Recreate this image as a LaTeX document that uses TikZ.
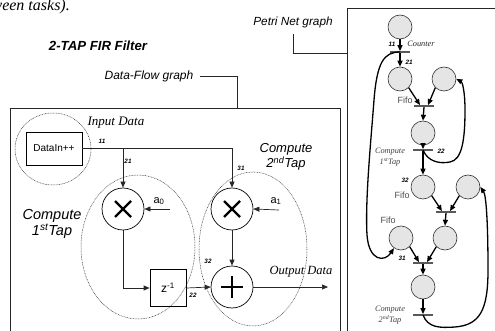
\documentclass[tikz,border=0pt]{standalone}
\usepackage{fontspec}
\setmainfont{Liberation Sans}
\newfontfamily\tnr{Liberation Serif}
\usetikzlibrary{arrows.meta}

\tikzset{
  dfarrow/.style={draw=black!85, line width=0.7pt, -{Triangle[length=6pt,width=5pt]}},
  pnarc/.style={line width=1.3pt, -{Triangle[length=6pt,width=5pt]}},
  place/.style={circle, draw=black!80, fill=black!10, line width=0.6pt, minimum size=24pt, inner sep=0pt},
  trans/.style={rectangle, fill=black!65, minimum width=20pt, minimum height=1.4pt, inner sep=0pt},
  opnode/.style={circle, draw, line width=0.7pt, minimum size=42pt, inner sep=0pt},
  tapzone/.style={draw=black!80, line width=0.5pt, dash pattern=on 0.8pt off 0.8pt},
  num/.style={font=\bfseries\itshape\fontsize{6.3}{7}\selectfont, inner sep=0pt},
  leader/.style={draw=black!85, line width=0.7pt},
  fifolbl/.style={font=\fontsize{9}{10}\selectfont, text=black!70},
}

\begin{document}
\begin{tikzpicture}[x=1pt,y=-1pt]
    \useasboundingbox (0,0) rectangle (495,331);
    % cut-off line of the page above
    \node[anchor=base east, inner sep=0pt, font=\tnr\itshape\fontsize{16}{18}\selectfont] (pagetext) at (70,11) {ween tasks).};
    \node[font=\bfseries\itshape\fontsize{13.2}{15}\selectfont] (title) at (98,46) {2-TAP FIR Filter};

    % frames and their labels
    \draw[black!85, line width=0.8pt] (10,108) rectangle (340,345);
    \draw[black!85, line width=0.8pt] (347,8) rectangle (500,345);
    \node[font=\itshape\fontsize{12}{14}\selectfont] (dflabel) at (149,76) {Data-Flow graph};
    \node[font=\itshape\fontsize{11.8}{14}\selectfont] (pnlabel) at (293,22) {Petri Net graph};
    \coordinate (dfedge) at (237,108);
    \coordinate (pnedge) at (347,53);
    \draw[leader] ([xshift=3pt]dflabel.east) -| (dfedge);
    \draw[leader] ([yshift=-3pt]pnlabel.south) |- (pnedge);

    % Data-Flow graph
    \draw[tapzone] (53,149) ellipse [x radius=38, y radius=36];
    \draw[tapzone] (138,247) ellipse [x radius=57, y radius=72];
    \draw[tapzone] (253,249) ellipse [x radius=54, y radius=77];
    \node[font=\tnr\itshape\fontsize{13}{15}\selectfont] (inlbl) at (116,123) {Input Data};
    \node[font=\itshape\fontsize{14.5}{14}\selectfont, align=center] (tap1lbl) at (52,224) {Compute\\1\textsuperscript{st}Tap};
    \node[font=\itshape\fontsize{13}{13.5}\selectfont, align=center] (tap2lbl) at (286,157) {Compute\\2\textsuperscript{nd}Tap};

    \node[draw, line width=0.7pt, minimum width=56pt, minimum height=33pt, font=\fontsize{10}{12}\selectfont] (din) at (54,148.5) {DataIn++};
    \node[opnode] (mul1) at (123,209) {};
    \node[opnode] (mul2) at (232,209) {};
    \node[opnode] (add) at (232,287) {};
    \node[draw, line width=0.7pt, minimum width=36pt, minimum height=37pt, font=\fontsize{12}{14}\selectfont] (zdel) at (168,288) {z\textsuperscript{-1}};
    \foreach \m in {mul1,mul2} {
        \draw[line width=2.4pt] ([shift={(-8,-8)}]\m.center) -- ([shift={(8,8)}]\m.center);
        \draw[line width=2.4pt] ([shift={(-8,8)}]\m.center) -- ([shift={(8,-8)}]\m.center);
    }
    \draw[line width=2.8pt] ([xshift=-11pt]add.center) -- ([xshift=11pt]add.center);
    \draw[line width=2.8pt] ([yshift=-11pt]add.center) -- ([yshift=11pt]add.center);

    \coordinate (coef0) at (170,209);
    \coordinate (coef1) at (279,210);
    \coordinate (dout) at (328,287);
    \node[font=\fontsize{11}{13}\selectfont] (a0lbl) at (159,201) {a\textsubscript{0}};
    \node[font=\fontsize{11}{13}\selectfont] (a1lbl) at (276,201) {a\textsubscript{1}};
    \node[font=\tnr\itshape\fontsize{12.5}{14}\selectfont] (outlbl) at (301,272) {Output Data};

    \draw[dfarrow] (din.east) -| (mul2.north);
    \draw[dfarrow] (din.east -| mul1.north) -- (mul1.north);
    \draw[dfarrow] (coef0) -- (mul1.east);
    \draw[dfarrow] (coef1) -- (mul2.east);
    \draw[dfarrow] (mul1.south) |- (zdel.west);
    \draw[dfarrow] (zdel.east) -- (add.west);
    \draw[dfarrow] (mul2.south) -- (add.north);
    \draw[dfarrow] (add.east) -- (dout);
    \node[num] (n11) at (102,141) {11};
    \node[num] (n21) at (128,161) {21};
    \node[num] (n31) at (241,168) {31};
    \node[num] (n32) at (208,261) {32};
    \node[num] (n22) at (193,295) {22};

    % Petri Net graph
    \foreach \n/\x/\y in {p1/400/27, p2/400/79, p3/444/79, p4/423/133, p5/423/187,
                          p6/468/187, p7/445/238, p8/401/238, p9/423/287} {
        \node[place] (\n) at (\x,\y) {};
    }
    \foreach \n/\x/\y in {t1/400/52, t2/424/106, t3/423/150, t4/446/212, t5/423/263, t6/423/315} {
        \node[trans] (\n) at (\x,\y) {};
    }
    \draw[pnarc] (p1.south) -- (t1.north);
    \draw[pnarc] (t1.south) -- (p2.north);
    \draw[pnarc] (p2.south east) -- ([xshift=-4pt]t2.north);
    \draw[pnarc] (p3.south west) -- ([xshift=4pt]t2.north);
    \draw[pnarc] (t2.south) -- (p4.north);
    \draw[pnarc] (p4.south) -- (t3.north);
    \draw[pnarc] (t3.south) -- (p5.north);
    \draw[pnarc] (p5.south east) -- ([xshift=-4pt]t4.north);
    \draw[pnarc] (p6.south west) -- ([xshift=4pt]t4.north);
    \draw[pnarc] (t4.south) -- (p7.north);
    \draw[pnarc] (p7.south west) -- ([xshift=4pt]t5.north);
    \draw[pnarc] (p8.south east) -- ([xshift=-4pt]t5.north);
    \draw[pnarc] (t5.south) -- (p9.north);
    \draw[pnarc] (p9.south) -- (t6.north);
    % feedback arcs
    \draw[pnarc] (t1.center) .. controls (384,52) and (377,62) .. (374,100)
        .. controls (371,140) and (365,200) .. (367,235)
        .. controls (369,262) and (385,262) .. (p8.-125);
    \draw[pnarc] (t3.center) .. controls (428,162) and (440,164) .. (450,162)
        .. controls (462,160) and (465,140) .. (465,110)
        .. controls (465,90) and (462,82) .. (p3.east);
    \draw[pnarc] (t6.center) .. controls (428,328) and (440,328) .. (455,327)
        .. controls (480,325) and (488,310) .. (488,270)
        .. controls (488,220) and (486,195) .. (p6.east);

    \node[num] (m11) at (392,44) {11};
    \node[num] (m21) at (409,62) {21};
    \node[num] (m22) at (441,151) {22};
    \node[num] (m32) at (405,180) {32};
    \node[num] (m31) at (402,258) {31};
    \node[font=\tnr\itshape\fontsize{8.3}{10}\selectfont, text=black!85] (ctr) at (421,44) {Counter};
    \node[fifolbl] (fifo1) at (405,100) {Fifo};
    \node[fifolbl] (fifo2) at (402,195) {Fifo};
    \node[fifolbl] (fifo3) at (388,220) {Fifo};
    \node[font=\tnr\itshape\fontsize{8.3}{11}\selectfont, text=black!75, align=center] (c1lbl) at (390,157) {Compute\\1\textsuperscript{st}Tap};
    \node[font=\tnr\itshape\fontsize{8.3}{11}\selectfont, text=black!75, align=center] (c2lbl) at (390,315) {Compute\\2\textsuperscript{nd}Tap};
\end{tikzpicture}
\end{document}
